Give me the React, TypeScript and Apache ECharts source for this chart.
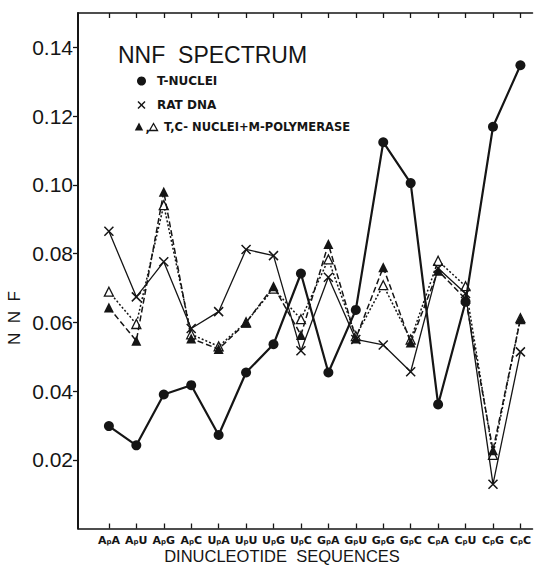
import React, { useEffect, useRef } from "react";
import * as echarts from "echarts";

const categories = ["ApA", "ApU", "ApG", "ApC", "UpA", "UpU", "UpG", "UpC", "GpA", "GpU", "GpG", "GpC", "CpA", "CpU", "CpG", "CpC"];
const tNuclei = [0.0298, 0.0242, 0.039, 0.0417, 0.0272, 0.0454, 0.0536, 0.0742, 0.0454, 0.0636, 0.1124, 0.1005, 0.0361, 0.066, 0.1169, 0.1348];
const ratDna = [0.0865, 0.0674, 0.0776, 0.0582, 0.0631, 0.0812, 0.0794, 0.0517, 0.0731, 0.055, 0.0534, 0.0456, 0.0757, 0.0684, 0.0129, 0.0514];
const tPolymerase = [0.0643, 0.0546, 0.098, 0.0553, 0.0522, 0.0599, 0.0705, 0.0563, 0.0828, 0.0553, 0.076, 0.0541, 0.075, 0.0668, 0.0228, 0.0609];
const cPolymerase = [0.0689, 0.0595, 0.0941, 0.0565, 0.053, 0.06, 0.0698, 0.0609, 0.0783, 0.056, 0.0708, 0.055, 0.0779, 0.0705, 0.0214, 0.0612];
const yTicks = [0.02, 0.04, 0.06, 0.08, 0.1, 0.12, 0.14];

const INK = "#151515";
const idx = categories.map((_, i) => i);
const toPairs = (arr: number[]) => arr.map((v, i) => [i, v]);

export default function App() {
  const ref = useRef<HTMLDivElement>(null);
  useEffect(() => {
    if (!ref.current) return;
    const chart = echarts.init(ref.current, null, { renderer: "svg" });
    const baseX = {
      type: "value" as const,
      min: -1.126,
      max: 15.44,
      splitLine: { show: false },
      axisLine: { show: true, onZero: false, lineStyle: { color: INK, width: 1.6 } },
    };
    chart.setOption({
      animation: false,
      backgroundColor: "#ffffff",
      grid: { left: 78, right: 0, top: 13, bottom: 43.5 },
      xAxis: [
        {
          ...baseX,
          position: "bottom",
          axisTick: { show: true, inside: true, length: 5, customValues: idx, lineStyle: { color: INK, width: 1.3 } },
          axisLabel: {
            show: true,
            customValues: idx,
            margin: 6,
            color: INK,
            formatter: (v: number) => {
              const c = categories[Math.round(v)];
              if (!c) return "";
              return `{b|${c[0]}}{s|${c[1]}}{b|${c[2]}}`;
            },
            rich: {
              b: { fontFamily: "DejaVu Sans", fontWeight: "bold", fontSize: 11, color: INK, lineHeight: 11 },
              s: { fontFamily: "DejaVu Sans", fontWeight: "bold", fontSize: 7, color: INK, lineHeight: 8, verticalAlign: "bottom" },
            },
          },
        },
        {
          ...baseX,
          position: "top",
          axisTick: { show: true, inside: true, length: 5, customValues: idx, lineStyle: { color: INK, width: 1.3 } },
          axisLabel: { show: false },
        },
      ],
      yAxis: {
        type: "value",
        min: 0,
        max: 0.15,
        splitLine: { show: false },
        axisLine: { show: true, onZero: false, lineStyle: { color: INK, width: 2 } },
        axisTick: { show: true, inside: false, length: 5, customValues: yTicks, lineStyle: { color: INK, width: 1.3 } },
        axisLabel: {
          show: true,
          customValues: yTicks,
          margin: 5,
          color: INK,
          fontFamily: "Liberation Sans",
          fontSize: 21,
          formatter: (v: number) => v.toFixed(2),
        },
      },
      graphic: [
        { type: "text", x: 118, y: 55, style: { text: "NNF  SPECTRUM", fill: INK, font: '23px "Liberation Sans"', align: "left", verticalAlign: "middle" } },
        { type: "circle", shape: { cx: 141.5, cy: 81, r: 4.5 }, style: { fill: INK } },
        { type: "text", x: 157, y: 81, style: { text: "T-NUCLEI", fill: INK, font: 'bold 12px "DejaVu Sans"', align: "left", verticalAlign: "middle" } },
        { type: "line", shape: { x1: 138, y1: 101.5, x2: 145, y2: 108.5 }, style: { stroke: INK, lineWidth: 1.5 } },
        { type: "line", shape: { x1: 138, y1: 108.5, x2: 145, y2: 101.5 }, style: { stroke: INK, lineWidth: 1.5 } },
        { type: "text", x: 157, y: 105, style: { text: "RAT DNA", fill: INK, font: 'bold 12px "DejaVu Sans"', align: "left", verticalAlign: "middle" } },
        { type: "polygon", shape: { points: [[139, 122.5], [134.8, 130.5], [143.2, 130.5]] }, style: { fill: INK } },
        { type: "text", x: 145.5, y: 128, style: { text: ",", fill: INK, font: 'bold 12px "DejaVu Sans"', align: "left", verticalAlign: "middle" } },
        { type: "polygon", shape: { points: [[153.5, 123.5], [149.5, 130.5], [157.5, 130.5]] }, style: { fill: "#fff", stroke: INK, lineWidth: 1.3 } },
        { type: "text", x: 164, y: 127, style: { text: "T,C- NUCLEI+M-POLYMERASE", fill: INK, font: 'bold 11.5px "DejaVu Sans"', align: "left", verticalAlign: "middle" } },
        { type: "text", x: 14, y: 318, rotation: Math.PI / 2, style: { text: "N  N  F", fill: INK, font: '17px "Liberation Sans"', align: "center", verticalAlign: "middle" } },
        { type: "text", x: 282, y: 556, style: { text: "DINUCLEOTIDE  SEQUENCES", fill: INK, font: '16.5px "Liberation Sans"', align: "center", verticalAlign: "middle" } },
      ],
      series: [
        {
          name: "C-NUCLEI+M-POLYMERASE",
          type: "line",
          data: toPairs(cPolymerase),
          symbol: "triangle",
          symbolSize: 9,
          showAllSymbol: true,
          itemStyle: { color: "#ffffff", borderColor: INK, borderWidth: 1.3 },
          lineStyle: { color: INK, width: 1.5, type: [2, 2] },
          z: 2,
        },
        {
          name: "T-NUCLEI+M-POLYMERASE",
          type: "line",
          data: toPairs(tPolymerase),
          symbol: "triangle",
          symbolSize: 10,
          showAllSymbol: true,
          itemStyle: { color: INK },
          lineStyle: { color: INK, width: 1.5, type: [6, 3] },
          z: 3,
        },
        {
          name: "RAT DNA",
          type: "line",
          data: toPairs(ratDna),
          symbol: "path://M0,0L10,10M0,10L10,0",
          symbolSize: 9,
          showAllSymbol: true,
          itemStyle: { color: "none", borderColor: INK, borderWidth: 1.5 },
          lineStyle: { color: INK, width: 1.3 },
          z: 4,
        },
        {
          name: "T-NUCLEI",
          type: "line",
          data: toPairs(tNuclei),
          symbol: "circle",
          symbolSize: 10,
          showAllSymbol: true,
          itemStyle: { color: INK },
          lineStyle: { color: INK, width: 2.2 },
          z: 5,
        },
      ],
    });
    return () => chart.dispose();
  }, []);
  return <div ref={ref} style={{ width: 534, height: 572, position: "absolute", left: 0, top: 0 }} />;
}
